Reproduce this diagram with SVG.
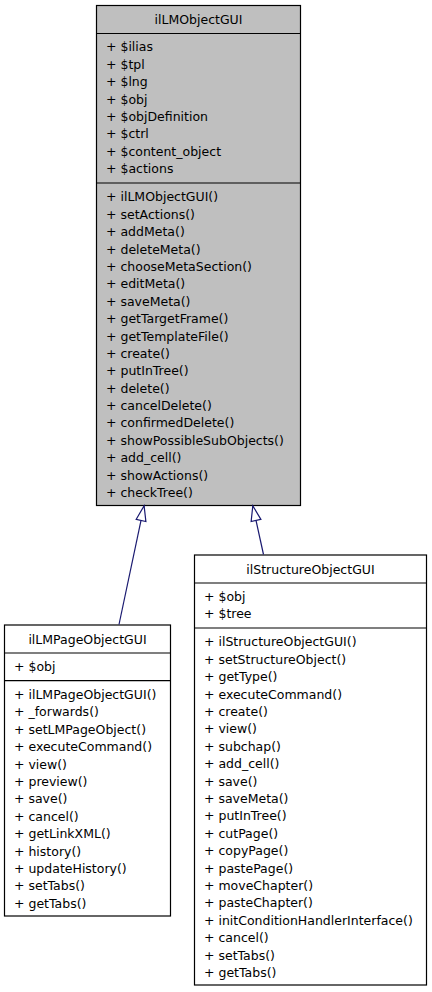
<svg xmlns="http://www.w3.org/2000/svg" width="432" height="992" viewBox="0 0 432 992">
<style>
  .box { stroke: #000; stroke-width: 1.2; }
  .div { stroke: #000; stroke-width: 1.2; }
  text { font-family: "DejaVu Sans", "Liberation Sans", sans-serif; font-size: 12.5px; fill: #000; }
  .title { text-anchor: middle; }
  .edge { fill: none; stroke: #191970; stroke-width: 1.2; }
</style>
<defs>
  <marker id="inherit" markerUnits="userSpaceOnUse" markerWidth="17" markerHeight="12" refX="15" refY="5" orient="auto" overflow="visible">
    <path d="M0,0 L15,5 L0,10 z" fill="#fff" stroke="#191970" stroke-width="1.2"/>
  </marker>
</defs>
<rect width="432" height="992" fill="#fff"/>

<g id="ilLMObjectGUI">
  <rect class="box" x="96.5" y="5.5" width="204" height="500" fill="#bfbfbf"/>
  <line class="div" x1="96.5" y1="33.5" x2="300.5" y2="33.5"/>
  <line class="div" x1="96.5" y1="183" x2="300.5" y2="183"/>
  <text class="title" x="198.5" y="23.8">ilLMObjectGUI</text>
  <text x="106" y="51.3">
    <tspan x="106">+ $ilias</tspan>
    <tspan x="106" dy="17.4">+ $tpl</tspan>
    <tspan x="106" dy="17.4">+ $lng</tspan>
    <tspan x="106" dy="17.4">+ $obj</tspan>
    <tspan x="106" dy="17.4">+ $objDefinition</tspan>
    <tspan x="106" dy="17.4">+ $ctrl</tspan>
    <tspan x="106" dy="17.4">+ $content_object</tspan>
    <tspan x="106" dy="17.4">+ $actions</tspan>
  </text>
  <text x="106" y="201.3">
    <tspan x="106">+ ilLMObjectGUI()</tspan>
    <tspan x="106" dy="17.4">+ setActions()</tspan>
    <tspan x="106" dy="17.4">+ addMeta()</tspan>
    <tspan x="106" dy="17.4">+ deleteMeta()</tspan>
    <tspan x="106" dy="17.4">+ chooseMetaSection()</tspan>
    <tspan x="106" dy="17.4">+ editMeta()</tspan>
    <tspan x="106" dy="17.4">+ saveMeta()</tspan>
    <tspan x="106" dy="17.4">+ getTargetFrame()</tspan>
    <tspan x="106" dy="17.4">+ getTemplateFile()</tspan>
    <tspan x="106" dy="17.4">+ create()</tspan>
    <tspan x="106" dy="17.4">+ putInTree()</tspan>
    <tspan x="106" dy="17.4">+ delete()</tspan>
    <tspan x="106" dy="17.4">+ cancelDelete()</tspan>
    <tspan x="106" dy="17.4">+ confirmedDelete()</tspan>
    <tspan x="106" dy="17.4">+ showPossibleSubObjects()</tspan>
    <tspan x="106" dy="17.4">+ add_cell()</tspan>
    <tspan x="106" dy="17.4">+ showActions()</tspan>
    <tspan x="106" dy="17.4">+ checkTree()</tspan>
  </text>
</g>

<g id="ilLMPageObjectGUI">
  <rect class="box" x="4.5" y="625" width="166" height="291" fill="#fff"/>
  <line class="div" x1="4.5" y1="653" x2="170.5" y2="653"/>
  <line class="div" x1="4.5" y1="680.7" x2="170.5" y2="680.7"/>
  <text class="title" x="87.5" y="643.5">ilLMPageObjectGUI</text>
  <text x="14" y="670.8">+ $obj</text>
  <text x="14" y="699">
    <tspan x="14">+ ilLMPageObjectGUI()</tspan>
    <tspan x="14" dy="17.4">+ _forwards()</tspan>
    <tspan x="14" dy="17.4">+ setLMPageObject()</tspan>
    <tspan x="14" dy="17.4">+ executeCommand()</tspan>
    <tspan x="14" dy="17.4">+ view()</tspan>
    <tspan x="14" dy="17.4">+ preview()</tspan>
    <tspan x="14" dy="17.4">+ save()</tspan>
    <tspan x="14" dy="17.4">+ cancel()</tspan>
    <tspan x="14" dy="17.4">+ getLinkXML()</tspan>
    <tspan x="14" dy="17.4">+ history()</tspan>
    <tspan x="14" dy="17.4">+ updateHistory()</tspan>
    <tspan x="14" dy="17.4">+ setTabs()</tspan>
    <tspan x="14" dy="17.4">+ getTabs()</tspan>
  </text>
</g>

<g id="ilStructureObjectGUI">
  <rect class="box" x="194.5" y="555" width="232" height="430" fill="#fff"/>
  <line class="div" x1="194.5" y1="583" x2="426.5" y2="583"/>
  <line class="div" x1="194.5" y1="628" x2="426.5" y2="628"/>
  <text class="title" x="310.5" y="573.5">ilStructureObjectGUI</text>
  <text x="204" y="600.8">
    <tspan x="204">+ $obj</tspan>
    <tspan x="204" dy="17.4">+ $tree</tspan>
  </text>
  <text x="204" y="646.4">
    <tspan x="204">+ ilStructureObjectGUI()</tspan>
    <tspan x="204" dy="17.4">+ setStructureObject()</tspan>
    <tspan x="204" dy="17.4">+ getType()</tspan>
    <tspan x="204" dy="17.4">+ executeCommand()</tspan>
    <tspan x="204" dy="17.4">+ create()</tspan>
    <tspan x="204" dy="17.4">+ view()</tspan>
    <tspan x="204" dy="17.4">+ subchap()</tspan>
    <tspan x="204" dy="17.4">+ add_cell()</tspan>
    <tspan x="204" dy="17.4">+ save()</tspan>
    <tspan x="204" dy="17.4">+ saveMeta()</tspan>
    <tspan x="204" dy="17.4">+ putInTree()</tspan>
    <tspan x="204" dy="17.4">+ cutPage()</tspan>
    <tspan x="204" dy="17.4">+ copyPage()</tspan>
    <tspan x="204" dy="17.4">+ pastePage()</tspan>
    <tspan x="204" dy="17.4">+ moveChapter()</tspan>
    <tspan x="204" dy="17.4">+ pasteChapter()</tspan>
    <tspan x="204" dy="17.4">+ initConditionHandlerInterface()</tspan>
    <tspan x="204" dy="17.4">+ cancel()</tspan>
    <tspan x="204" dy="17.4">+ setTabs()</tspan>
    <tspan x="204" dy="17.4">+ getTabs()</tspan>
  </text>
</g>

<g id="connectors">
  <line class="edge" x1="119" y1="624.5" x2="144.1" y2="505.8" marker-end="url(#inherit)"/>
  <line class="edge" x1="263.5" y1="554.5" x2="252.8" y2="505.8" marker-end="url(#inherit)"/>
</g>
</svg>
